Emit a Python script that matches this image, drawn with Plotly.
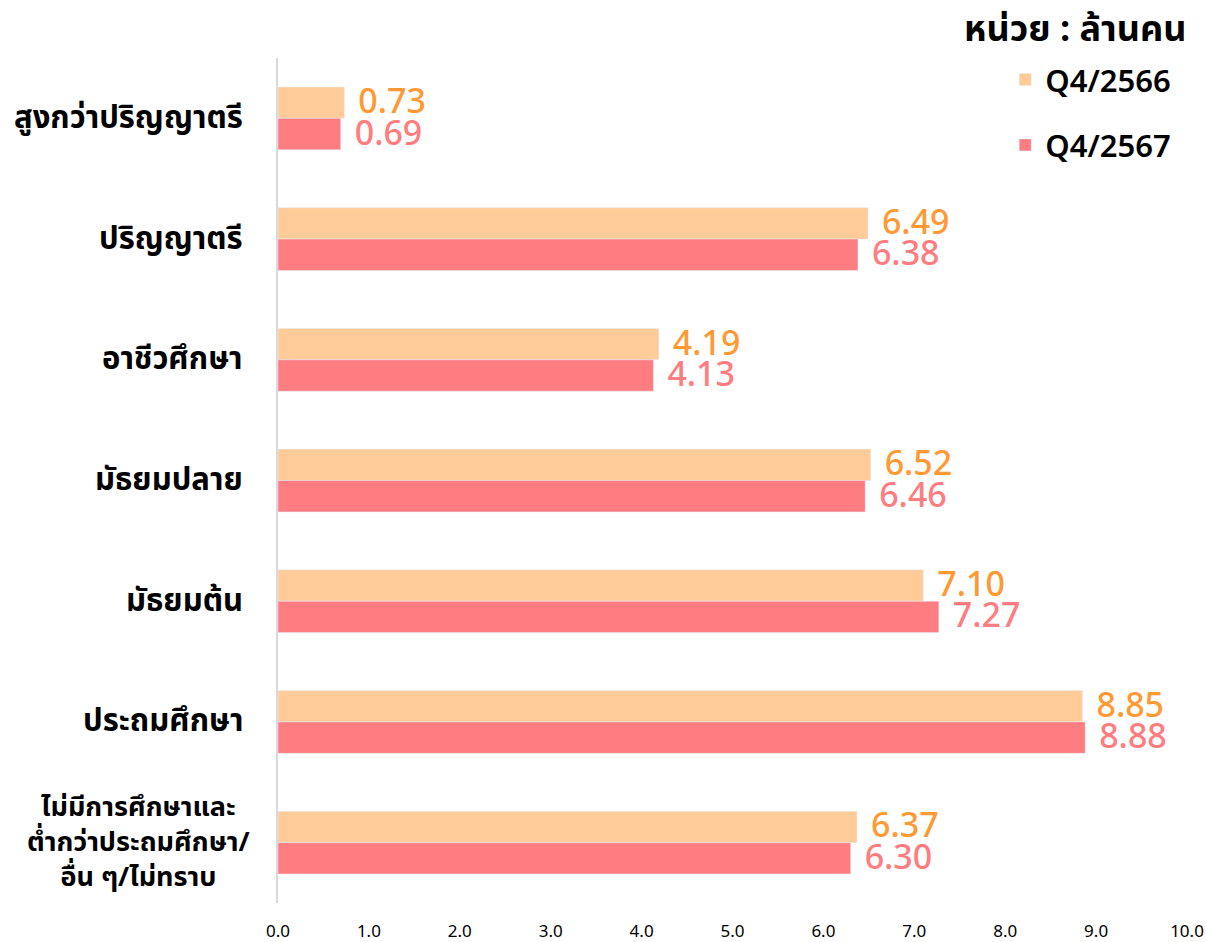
import plotly.graph_objects as go

categories = [
    "สูงกว่าปริญญาตรี",
    "ปริญญาตรี",
    "อาชีวศึกษา",
    "มัธยมปลาย",
    "มัธยมต้น",
    "ประถมศึกษา",
    "ไม่มีการศึกษาและ<br>ต่ำกว่าประถมศึกษา/<br>อื่น ๆ/ไม่ทราบ",
]
q4_2566 = [0.73, 6.49, 4.19, 6.52, 7.10, 8.85, 6.37]
q4_2567 = [0.69, 6.38, 4.13, 6.46, 7.27, 8.88, 6.30]
x_ticks = [0, 1, 2, 3, 4, 5, 6, 7, 8, 9, 10]

FONT = "Noto Sans Thai, Noto Sans, sans-serif"
PAD = " \u200a"  # gap between bar end and value label

fig = go.Figure()
fig.add_trace(go.Bar(
    y=categories, x=q4_2566, orientation="h", name="Q4/2566",
    marker={"color": "#FFCC99"}, legendgroup="a",
    text=[f"{PAD}{v:.2f}" for v in q4_2566], textposition="outside",
    textfont={"color": "#FF9933", "size": 34, "family": FONT, "weight": 500},
    constraintext="none", cliponaxis=False,
))
fig.add_trace(go.Bar(
    y=categories, x=q4_2567, orientation="h", name="Q4/2567",
    marker={"color": "#FF7C80"}, legendgroup="b",
    text=[f"{PAD}{v:.2f}" for v in q4_2567], textposition="outside",
    textfont={"color": "#FF7C80", "size": 34, "family": FONT, "weight": 500},
    constraintext="none", cliponaxis=False,
))

# category labels as annotations so the multi-line one can be centred
for c in categories:
    multi = "<br>" in c
    fig.add_annotation(
        x=0, xref="paper", y=c, yref="y", text=f"<b>{c}</b>",
        showarrow=False, xanchor="right", align="center",
        xshift=-25 if multi else -33,
        font={"size": 27 if multi else 31, "color": "#000000", "family": FONT},
    )

fig.add_annotation(
    x=1, xref="paper", y=1, yref="paper", yanchor="bottom", xanchor="right",
    text="<b>หน่วย : ล้านคน</b>", showarrow=False, yshift=-1, xshift=2,
    font={"size": 36, "color": "#000000", "family": FONT},
)

fig.update_layout(
    width=1206, height=942,
    margin=dict(l=278, r=19, t=58, b=39),
    plot_bgcolor="white", paper_bgcolor="white",
    barmode="group", bargap=0.48, bargroupgap=0,
    font={"family": FONT},
    legend=dict(
        x=0.8, y=1.006, xanchor="left", yanchor="top",
        font={"size": 31, "color": "#000000", "family": FONT, "weight": 600},
        tracegroupgap=22, traceorder="grouped", bgcolor="rgba(0,0,0,0)",
        itemwidth=30,
    ),
)
fig.update_xaxes(
    range=[0, 10], tickvals=x_ticks, ticktext=[f"{v:.1f}" for v in x_ticks],
    showgrid=False, zeroline=False, showline=False, automargin=False,
    ticklabelstandoff=16, tickfont={"size": 17, "color": "#000000"},
)
fig.update_yaxes(
    autorange="reversed", showticklabels=False, showgrid=False, automargin=False,
    showline=True, linecolor="#d9d9d9", linewidth=2,
)

# drop the browser's default body margin so the figure sits at the page corner
fig.write_html(
    "out.html",
    config={"displayModeBar": False},
    post_script="document.body.style.margin='0';",
)
